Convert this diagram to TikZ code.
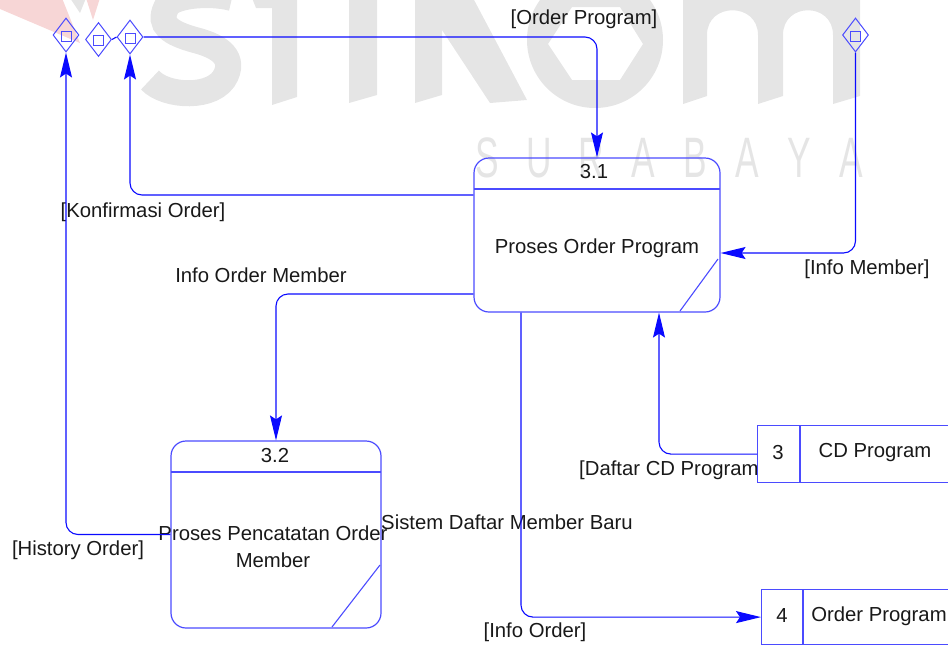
\documentclass[tikz,border=0pt]{standalone}
\usepackage{fontspec}
\setmainfont{Liberation Sans}
\usetikzlibrary{arrows.meta,shapes.geometric}
\definecolor{fl}{RGB}{10,10,255}
\definecolor{bx}{RGB}{75,75,255}
\definecolor{wm}{RGB}{229,229,229}
\definecolor{wmred}{RGB}{247,214,214}
\definecolor{tx}{RGB}{25,25,25}
\begin{document}
\begin{tikzpicture}[x=1pt,y=-1pt,
  every node/.style={font=\fontsize{20.3}{27}\selectfont, text=tx, inner sep=0pt},
  flow/.style={draw=fl, line width=1.1pt, rounded corners=12pt, -{Stealth[length=25pt,width=12pt,inset=4pt]}},
  plainline/.style={draw=fl, line width=1.1pt},
  dia/.style={diamond, draw=bx, line width=1pt, minimum width=26pt, minimum height=34pt, inner sep=0pt,
    path picture={\draw[bx, line width=1pt] ([xshift=-5pt,yshift=-6pt]path picture bounding box.center) rectangle ([xshift=5pt,yshift=4pt]path picture bounding box.center);}},
  proc/.style={rectangle, rounded corners=15pt, draw=bx, line width=1.2pt},
  store/.style={rectangle, draw=bx, fill=white, line width=1.2pt, anchor=north west},
  deco/.style={draw=bx, line width=1.1pt},
]
\useasboundingbox (0,0) rectangle (948,646);
% watermark
\fill[wmred] (0,-2) -- (62,-2) -- (80,43) -- (0,9) -- cycle;
\fill[wmred] (86,-2) -- (100,-2) -- (93,20) -- cycle;
\fill[wm] (70,-2) -- (86,-2) -- (80,13) -- cycle;
\draw[wm, line width=26pt] (150,80) .. controls (165,97) and (215,100) .. (226,75) .. controls (235,55) and (215,45) .. (195,40) .. controls (170,33) and (158,25) .. (166,8) .. controls (170,-5) and (210,-8) .. (232,-2);
\fill[wm] (272,-2) -- (297,-2) -- (297,97) -- (272,105) -- cycle;
\fill[wm] (252,-2) -- (272,-2) -- (272,8) -- (256,8) -- cycle;
\fill[wm] (349,-2) -- (377,-2) -- (377,95) -- (349,103) -- cycle;
\fill[wm] (415,-2) -- (442,-2) -- (442,95) -- (415,103) -- cycle;
\fill[wm] (442,-2) -- (473,-2) -- (527,100) -- (490,103) -- (442,30) -- cycle;
\fill[wm, even odd rule] (595,40) circle[radius=68pt] (548,44) -- (572,7) -- (620,7) -- (643,44) -- (620,80) -- (572,80) -- cycle;
\fill[wm] (683,-2) -- (860,-2) -- (860,96) -- (833,104) -- (833,35) .. controls (833,2) and (783,2) .. (783,35) -- (783,96) -- (758,104) -- (758,35) .. controls (758,2) and (707,2) .. (707,35) -- (707,96) -- (683,104) -- cycle;
\node[text=wm, font=\fontsize{57}{57}\selectfont] (wmtext) at (669,158) {\makebox[52pt]{\scalebox{0.62}[1]{S}}\makebox[52pt]{\scalebox{0.62}[1]{U}}\makebox[52pt]{\scalebox{0.62}[1]{R}}\makebox[52pt]{\scalebox{0.62}[1]{A}}\makebox[52pt]{\scalebox{0.62}[1]{B}}\makebox[52pt]{\scalebox{0.62}[1]{A}}\makebox[52pt]{\scalebox{0.62}[1]{Y}}\makebox[52pt]{\scalebox{0.62}[1]{A}}};
% labels
\node (lOP) at (584,19) {[Order Program]};
\node (lKO) at (143,212) {[Konfirmasi Order]};
\node (lIOM) at (261,275) {Info Order Member};
\node (lIM) at (867,269) {[Info Member]};
\node[anchor=west] (lDCP) at (579,470) {[Daftar CD Program]};
\node (lHO) at (78,550) {[History Order]};
\node (lSDM) at (507,522) {Sistem Daftar Member Baru};
\node (lIO) at (535,632) {[Info Order]};
% external entities
\node[dia] (d1) at (66,35) {};
\node[dia] (d2) at (98.5,39.5) {};
\node[dia] (d3) at (130,37) {};
\node[dia] (d4) at (855.5,35) {};
% processes
\node[proc, minimum width=246pt, minimum height=154pt] (p31) at (597,235) {};
\draw[deco] (474,189) -- (720,189);
\draw[deco] (718,259) -- (680,311);
\node (p31n) at (594,172) {3.1};
\node (p31t) at (597,248) {Proses Order Program};
\node[proc, minimum width=210pt, minimum height=187pt] (p32) at (276,534.5) {};
\draw[deco] (171,472) -- (381,472);
\draw[deco] (380,565) -- (332,627);
\node (p32n) at (275,456) {3.2};
\node[align=center] (p32t) at (273,547) {Proses Pencatatan Order\\Member};
% data stores
\node[store, minimum width=230pt, minimum height=57pt] (ds3) at (757,425) {};
\draw[deco] (800,425) -- (800,482);
\node (ds3n) at (778,453) {3};
\node (ds3t) at (875,453) {CD Program};
\node[store, minimum width=230pt, minimum height=55pt] (ds4) at (761,589) {};
\draw[deco] (803,589) -- (803,644);
\node (ds4n) at (782,616) {4};
\node (ds4t) at (879,616) {Order Program};
% flows
\draw[plainline] (d2.east) -- (d3.west);
\draw[flow] (d3.east) -| (p31.north);
\draw[flow] ([yshift=40pt]p31.west) -| (d3.south);
\draw[flow] (d4.south) |- ([yshift=-18pt]p31.east);
\draw[flow] ([yshift=-59pt]p31.west) -| (p32.north);
\draw[flow] (p32.west) -| (d1.south);
\draw[flow] (ds3.west) -| ([xshift=62pt]p31.south);
\draw[flow] ([xshift=-76pt]p31.south) |- (ds4.west);
\end{tikzpicture}
\end{document}
